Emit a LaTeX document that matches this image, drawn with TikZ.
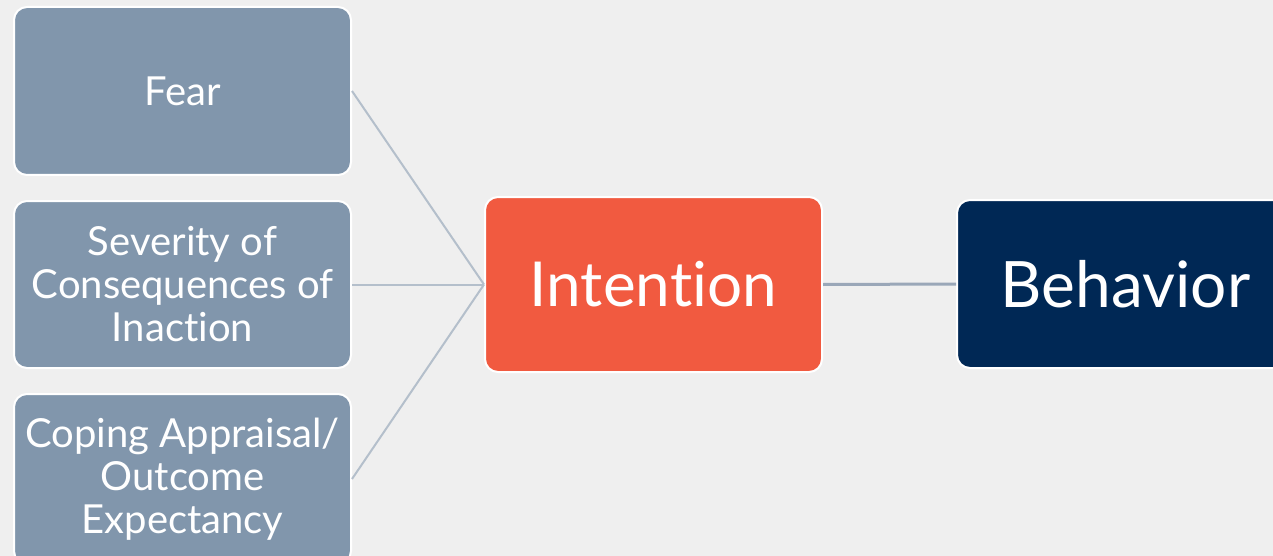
\documentclass[tikz,border=0pt]{standalone}
\usepackage{fontspec}
\setmainfont[Ligatures={NoCommon,NoContextual,NoRare},RawFeature={-liga;-dlig;-calt}]{Lato}
\definecolor{bg}{HTML}{EFEFEF}
\definecolor{greybox}{HTML}{8196AC}
\definecolor{intent}{HTML}{F15A40}
\definecolor{navy}{HTML}{002855}
\definecolor{linkc}{HTML}{B4BFCB}
\definecolor{linkd}{HTML}{9AA7B8}
\tikzset{
  box/.style={rectangle, rounded corners=13pt, draw=white, line width=2pt,
    minimum width=337pt, text=white, align=center, inner sep=0pt},
  smallbox/.style={box, fill=greybox, minimum height=168pt,
    font=\fontsize{40}{43}\selectfont},
  bigbox/.style={box, font=\fontsize{62}{74}\selectfont},
  link/.style={draw=linkc, line width=2pt},
  mainlink/.style={draw=linkd, line width=3pt}
}
\begin{document}
\begin{tikzpicture}[x=1pt,y=-1pt]
\useasboundingbox (0,0) rectangle (1273,556);
\clip (0,0) rectangle (1273,556);
\fill[bg] (0,0) rectangle (1273,556);
\node[smallbox] (fear) at (182.5,91) {Fear};
\node[smallbox, minimum height=167pt] (sev) at (182.5,284.5) {Severity of\\Consequences of\\Inaction};
\node[smallbox, minimum height=170pt] (cope) at (182.5,479) {Coping Appraisal/\\Outcome\\Expectancy};
\node[bigbox, fill=intent, minimum height=175pt] (int) at (653.5,284.5) {Inten\kern0pt tion};
\node[bigbox, fill=navy, minimum height=168pt, font=\fontsize{64}{76}\selectfont] (beh) at (1125.5,284) {Behavior};
\draw[link] (fear.east) -- (int.west);
\draw[link] (sev.east) -- (int.west);
\draw[link] (cope.east) -- (int.west);
\draw[mainlink] (int.east) -- (beh.west);
\end{tikzpicture}
\end{document}
